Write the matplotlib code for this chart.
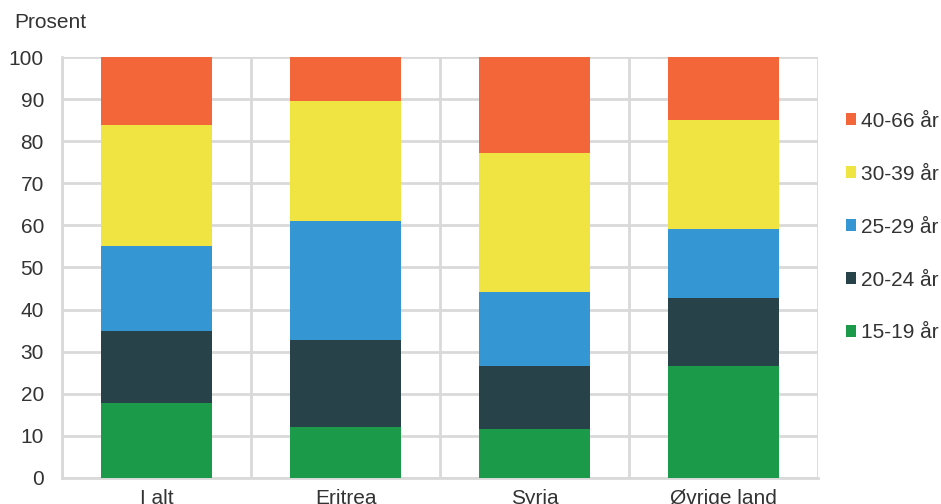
import matplotlib
matplotlib.use("Agg")
import matplotlib.pyplot as plt
import numpy as np

plt.rcParams['font.family'] = ['Liberation Sans', 'DejaVu Sans']

categories = ["I alt", "Eritrea", "Syria", "Øvrige land"]
series_labels = ["15-19 år", "20-24 år", "25-29 år", "30-39 år", "40-66 år"]
v_15_19 = [17.8, 12.1, 11.6, 26.6]
v_20_24 = [17.1, 20.7, 15.0, 16.2]
v_25_29 = [20.2, 28.2, 17.6, 16.3]
v_30_39 = [28.7, 28.5, 33.0, 25.9]
v_40_66 = [16.2, 10.5, 22.8, 15.0]
series = [v_15_19, v_20_24, v_25_29, v_30_39, v_40_66]
colors = ["#1B9B4A", "#284249", "#3496D3", "#F0E442", "#F3663A"]
y_ticks = [0, 10, 20, 30, 40, 50, 60, 70, 80, 90, 100]

text_color = "#333333"
grid_color = "#D9D9D9"

fig = plt.figure(figsize=(9.41, 5.04), dpi=100)
ax = fig.add_axes([0.0659, 0.0516, 0.8034, 0.8353])

x = np.arange(len(categories))
bottom = np.zeros(len(categories))
handles = []
for vals, col, lab in zip(series, colors, series_labels):
    h = ax.bar(x, vals, bottom=bottom, width=0.59, color=col, label=lab, zorder=3)
    handles.append(h)
    bottom += np.array(vals)

ax.set_xlim(-0.5, len(categories) - 0.5)
ax.set_ylim(0, 100)
ax.set_yticks(y_ticks)
ax.set_yticklabels([str(t) for t in y_ticks], fontsize=15, color=text_color)
ax.set_xticks(x)
ax.set_xticklabels(categories, fontsize=15, color=text_color)
ax.set_xticks(np.arange(len(categories) + 1) - 0.5, minor=True)
ax.tick_params(axis='both', which='both', length=0)
ax.tick_params(axis='y', pad=13)
ax.tick_params(axis='x', pad=8)

ax.grid(axis='y', which='major', color=grid_color, linewidth=2, zorder=0)
ax.grid(axis='x', which='minor', color=grid_color, linewidth=2, zorder=0)
ax.grid(axis='x', which='major', visible=False)
for s in ['top', 'right']:
    ax.spines[s].set_visible(False)
for s in ['left', 'bottom']:
    ax.spines[s].set_color(grid_color)
    ax.spines[s].set_linewidth(2)

fig.text(14/941, 1 - 22/504, "Prosent", fontsize=15, color=text_color, va='center', ha='left')

leg = ax.legend(handles[::-1], series_labels[::-1], loc='upper left',
                bbox_to_anchor=(1.026, 0.89), frameon=False, fontsize=15,
                handlelength=0.5, handleheight=0.5, handletextpad=0.2,
                labelspacing=1.63, borderaxespad=0)
for t in leg.get_texts():
    t.set_color(text_color)

fig.savefig("out.png", dpi=100)
